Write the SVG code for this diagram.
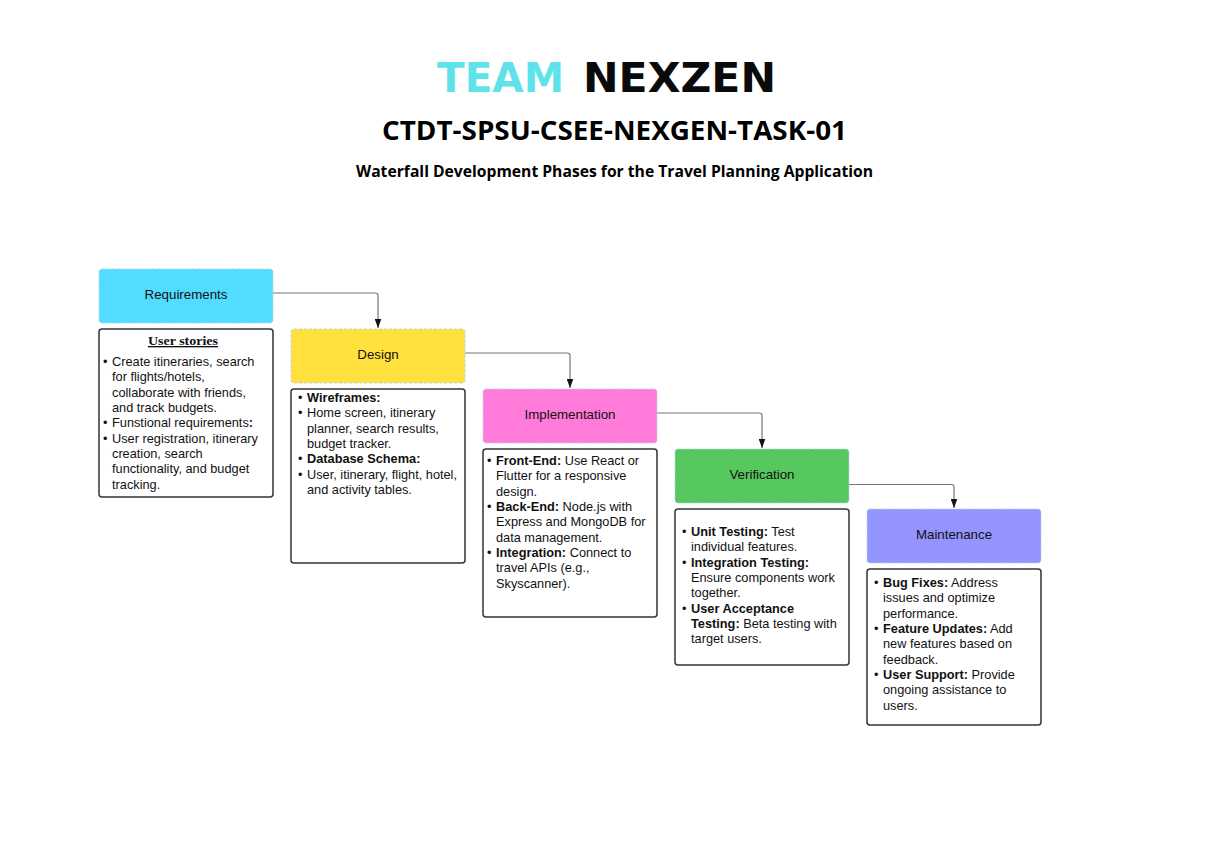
<svg xmlns="http://www.w3.org/2000/svg" width="1221" height="865" viewBox="0 0 1221 865">
<style>
text{font-family:"Liberation Sans",Arial,sans-serif;font-size:12.75px;fill:#111}
.head{font-size:13.3px;text-anchor:middle;fill:#111}
.ph{stroke:#b9d4ec;stroke-width:1;stroke-dasharray:3 2}
.tb{fill:#fff;stroke:#333;stroke-width:1.5}
.b{font-weight:bold}
.logo{font-family:"DejaVu Sans",sans-serif;font-size:41px;font-weight:700}
.title{font-family:"Open Sans",sans-serif;font-weight:700;text-anchor:middle;fill:#000}
.c{fill:none;stroke:#777;stroke-width:1.2}
</style>
<defs><marker id="a" markerUnits="userSpaceOnUse" markerWidth="9" markerHeight="7" refX="9" refY="3.5" orient="auto" viewBox="0 0 9 7"><path d="M0 .2L9 3.5L0 6.800Z" fill="#111"/></marker></defs>
<rect width="1221" height="865" fill="#fff"/>
<g id="header">
<text class="logo" x="437" y="92" textLength="127" lengthAdjust="spacingAndGlyphs" style="fill:#5fe3ea">TEAM</text>
<text class="logo" x="583" y="92" textLength="193" lengthAdjust="spacingAndGlyphs" style="fill:#0a0a0a">NEXZEN</text>
<text class="title" x="614.500" y="139.500" textLength="465" lengthAdjust="spacingAndGlyphs" style="font-size:27px">CTDT-SPSU-CSEE-NEXGEN-TASK-01</text>
<text class="title" x="614.500" y="177" textLength="517" lengthAdjust="spacingAndGlyphs" style="font-size:16px">Waterfall Development Phases for the Travel Planning Application</text>
</g>
<g id="connectors">
<path class="c" d="M273 293H375.500Q378 293 378 295.500V328" marker-end="url(#a)"/>
<path class="c" d="M465 353H567.500Q570 353 570 355.500V388" marker-end="url(#a)"/>
<path class="c" d="M657 413H759.500Q762 413 762 415.500V448" marker-end="url(#a)"/>
<path class="c" d="M849 484.500H951.500Q954 484.500 954 487V508" marker-end="url(#a)"/>
</g>
<g id="requirements">
<rect class="ph" x="99" y="269" width="174" height="54" rx="3" fill="#52dcff"/>
<text class="head" x="186" y="299">Requirements</text>
</g>
<g id="requirements-details">
<rect class="tb" x="99" y="329" width="174" height="168" rx="3"/>
<text x="148" y="345" textLength="70" lengthAdjust="spacingAndGlyphs" text-decoration="underline" style="font-family:'Liberation Serif',serif;font-weight:bold;font-size:13.500px">User stories</text>
<text x="103" y="366">•</text><text x="112" y="366">Create itineraries, search</text>
<text x="112" y="381.300">for flights/hotels,</text>
<text x="112" y="396.600">collaborate with friends,</text>
<text x="112" y="412">and track budgets.</text>
<text x="103" y="427.300">•</text><text x="112" y="427.300">Funstional requirements<tspan class="b">:</tspan></text>
<text x="103" y="442.600">•</text><text x="112" y="442.600">User registration, itinerary</text>
<text x="112" y="458">creation, search</text>
<text x="112" y="473.300">functionality, and budget</text>
<text x="112" y="488.600">tracking.</text>
</g>
<g id="design">
<rect class="ph" x="291" y="329" width="174" height="54" rx="3" fill="#ffe03d"/>
<text class="head" x="378" y="359">Design</text>
</g>
<g id="design-details">
<rect class="tb" x="291" y="389" width="174" height="174" rx="3"/>
<text x="298" y="402">•</text><text class="b" x="307" y="402">Wireframes:</text>
<text x="298" y="417.300">•</text><text x="307" y="417.300">Home screen, itinerary</text>
<text x="307" y="432.600">planner, search results,</text>
<text x="307" y="448">budget tracker.</text>
<text x="298" y="463.300">•</text><text class="b" x="307" y="463.300">Database Schema:</text>
<text x="298" y="478.600">•</text><text x="307" y="478.600">User, itinerary, flight, hotel,</text>
<text x="307" y="494">and activity tables.</text>
</g>
<g id="implementation">
<rect class="ph" x="483" y="389" width="174" height="54" rx="3" fill="#ff7ad9"/>
<text class="head" x="570" y="419">Implementation</text>
</g>
<g id="implementation-details">
<rect class="tb" x="483" y="449" width="174" height="168" rx="3"/>
<text x="487" y="465">•</text><text x="496" y="465"><tspan class="b">Front-End:</tspan> Use React or</text>
<text x="496" y="480.300">Flutter for a responsive</text>
<text x="496" y="495.600">design.</text>
<text x="487" y="511">•</text><text x="496" y="511"><tspan class="b">Back-End:</tspan> Node.js with</text>
<text x="496" y="526.300">Express and MongoDB for</text>
<text x="496" y="541.600">data management.</text>
<text x="487" y="557">•</text><text x="496" y="557"><tspan class="b">Integration:</tspan> Connect to</text>
<text x="496" y="572.300">travel APIs (e.g.,</text>
<text x="496" y="587.600">Skyscanner).</text>
</g>
<g id="verification">
<rect class="ph" x="675" y="449" width="174" height="54" rx="3" fill="#57c75f"/>
<text class="head" x="762" y="479">Verification</text>
</g>
<g id="verification-details">
<rect class="tb" x="675" y="509" width="174" height="156" rx="3"/>
<text x="682" y="536">•</text><text x="691" y="536"><tspan class="b">Unit Testing:</tspan> Test</text>
<text x="691" y="551.300">individual features.</text>
<text x="682" y="566.600">•</text><text class="b" x="691" y="566.600">Integration Testing:</text>
<text x="691" y="582">Ensure components work</text>
<text x="691" y="597.300">together.</text>
<text x="682" y="612.600">•</text><text class="b" x="691" y="612.600">User Acceptance</text>
<text x="691" y="628"><tspan class="b">Testing:</tspan> Beta testing with</text>
<text x="691" y="643.300">target users.</text>
</g>
<g id="maintenance">
<rect class="ph" x="867" y="509" width="174" height="54" rx="3" fill="#9494ff"/>
<text class="head" x="954" y="539">Maintenance</text>
</g>
<g id="maintenance-details">
<rect class="tb" x="867" y="569" width="174" height="156" rx="3"/>
<text x="874" y="587">•</text><text x="883" y="587"><tspan class="b">Bug Fixes:</tspan> Address</text>
<text x="883" y="602.300">issues and optimize</text>
<text x="883" y="617.600">performance.</text>
<text x="874" y="633">•</text><text x="883" y="633"><tspan class="b">Feature Updates:</tspan> Add</text>
<text x="883" y="648.300">new features based on</text>
<text x="883" y="663.600">feedback.</text>
<text x="874" y="679">•</text><text x="883" y="679"><tspan class="b">User Support:</tspan> Provide</text>
<text x="883" y="694.300">ongoing assistance to</text>
<text x="883" y="709.600">users.</text>
</g>
</svg>
